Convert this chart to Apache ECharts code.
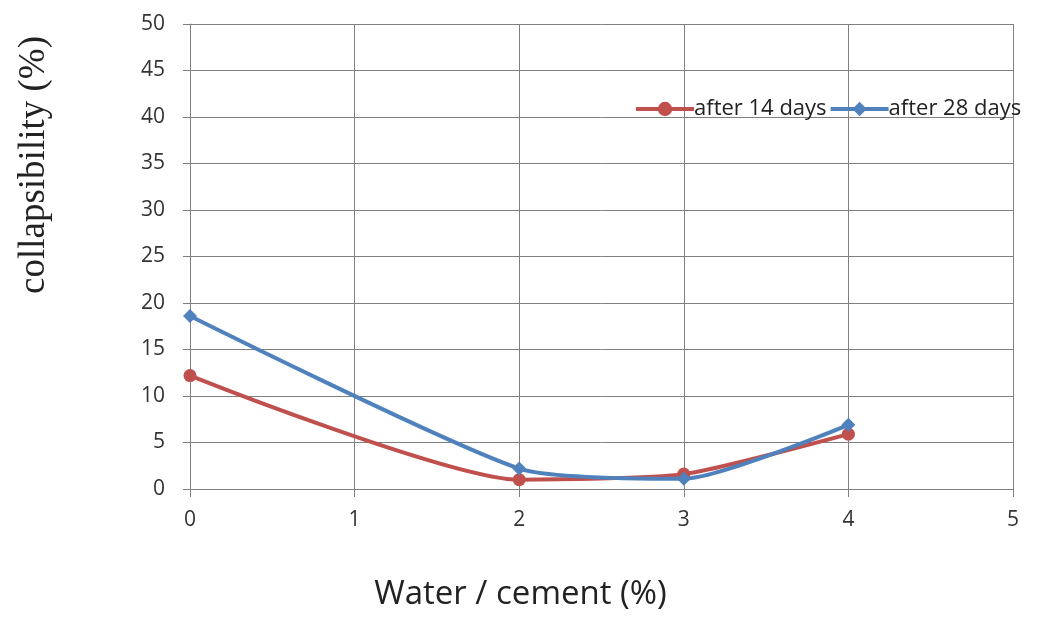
<!DOCTYPE html>
<html><head><meta charset="utf-8">
<script src="https://cdn.jsdelivr.net/npm/echarts@6/dist/echarts.min.js"></script>
<style>html,body{margin:0;padding:0;background:#fff}#c{width:1041px;height:619px}</style>
</head><body><div id="c"></div>
<script>
const xValues = [0, 2, 3, 4];
const after14 = [12.2, 1.0, 1.6, 5.9];
const after28 = [18.6, 2.2, 1.1, 6.9];
const seriesNames = ['after 14 days', 'after 28 days'];
const xTitle = 'Water / cement (%)';
const yTitle = 'collapsibility (%)';

const chart = echarts.init(document.getElementById('c'));
chart.setOption({
  animation: false,
  backgroundColor: '#fff',
  grid: {left: 190, right: 28, top: 24, bottom: 130},
  legend: {
    left: 634, top: 98, padding: 0, itemWidth: 58, itemHeight: 18, itemGap: 2,
    lineStyle: {width: 4},
    textStyle: {fontFamily: 'Open Sans', fontSize: 22, color: '#222', padding: [0,0,0,-5]},
    data: seriesNames
  },
  xAxis: {
    type: 'value', min: 0, max: 5, interval: 1,
    axisLine: {lineStyle: {color: '#808080', width: 1}},
    axisTick: {show: true, length: 8, lineStyle: {color: '#808080'}},
    axisLabel: {fontFamily: 'Open Sans', fontSize: 21, color: '#333', margin: 21},
    splitLine: {show: true, lineStyle: {color: '#808080', width: 1}}
  },
  yAxis: {
    type: 'value', min: 0, max: 50, interval: 5,
    axisLine: {show: true, lineStyle: {color: '#808080', width: 1}},
    axisTick: {show: true, length: 7, lineStyle: {color: '#808080'}},
    axisLabel: {fontFamily: 'Open Sans', fontSize: 21, color: '#333', margin: 25},
    splitLine: {show: true, lineStyle: {color: '#808080', width: 1}}
  },
  graphic: [
    {type: 'text', left: 'center', top: 578, style: {text: xTitle, font: '33px "Open Sans"', fill: '#222'}},
    {type: 'text', x: 16, y: 165, rotation: Math.PI/2, style: {text: yTitle, font: '37px "Liberation Serif"', fill: '#222', align: 'center', verticalAlign: 'top'}}
  ],
  series: [
    {name: seriesNames[0], type: 'line', smooth: 0.2, data: xValues.map((x,i)=>[x, after14[i]]),
     symbol: 'circle', symbolSize: 13, lineStyle: {width: 4, color: '#C0504D'}, itemStyle: {color: '#C0504D'}},
    {name: seriesNames[1], type: 'line', smooth: 0.2, data: xValues.map((x,i)=>[x, after28[i]]),
     symbol: 'diamond', symbolSize: 14, lineStyle: {width: 4, color: '#4F81BD'}, itemStyle: {color: '#4F81BD'}}
  ]
});
</script></body></html>
